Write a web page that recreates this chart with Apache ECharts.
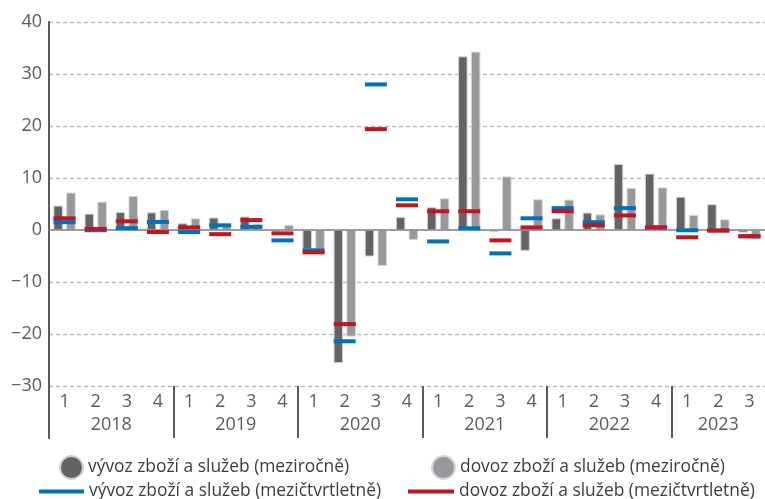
<!DOCTYPE html>
<html>
<head>
<meta charset="utf-8">
<script src="https://cdn.jsdelivr.net/npm/echarts@6/dist/echarts.min.js"></script>
<style>
  html, body { margin: 0; padding: 0; background: #fff; }
  #chart { width: 765px; height: 499px; }
</style>
</head>
<body>
<div id="chart"></div>
<script>
// Quarter labels (per year) and the years they belong to
const quarterLabels = ['1','2','3','4','1','2','3','4','1','2','3','4','1','2','3','4','1','2','3','4','1','2','3'];
const yearLabels = ['2018','2019','2020','2021','2022','2023'];
const quartersPerYear = [4, 4, 4, 4, 4, 3];

// y-axis ticks
const yTicks = [-40, -30, -20, -10, 0, 10, 20, 30, 40];

// Year-on-year growth, %
const exportYoY = [4.7, 3.15, 3.45, 3.4, 1.3, 2.4, 2.6, -0.3, -3.7, -25.6, -5.1, 2.5, 4.4, 33.4, -0.4, -4.0, 2.25, 3.35, 12.7, 10.85, 6.4, 4.95, -0.5];
const importYoY = [7.2, 5.45, 6.55, 3.9, 2.25, 1.1, 1.2, 1.0, -3.7, -20.5, -6.9, -1.9, 6.1, 34.3, 10.3, 5.9, 5.85, 3.0, 8.1, 8.2, 2.9, 2.05, -1.8];

// Quarter-on-quarter growth, %
const exportQoQ = [1.5, -0.05, 0.35, 1.55, -0.4, 0.9, 0.6, -2.0, -3.9, -21.4, 28.0, 5.9, -2.2, 0.33, -4.5, 2.25, 4.2, 1.5, 4.2, 0.5, -0.05, -0.1, -1.2];
const importQoQ = [2.25, 0.2, 1.67, -0.4, 0.5, -0.8, 1.9, -0.65, -4.3, -18.1, 19.4, 4.75, 3.6, 3.6, -2.0, 0.5, 3.6, 0.9, 2.8, 0.5, -1.4, -0.1, -1.2];

const seriesNames = [
  'vývoz zboží a služeb (meziročně)',
  'dovoz zboží a služeb (meziročně)',
  'vývoz zboží a služeb (mezičtvrtletně)',
  'dovoz zboží a služeb (mezičtvrtletně)'
];

// Year boundaries and year-label centres on a 0..N quarter scale
const yearStarts = [];
const yearCenters = [];
let acc = 0;
quartersPerYear.forEach(n => { yearStarts.push(acc); yearCenters.push(acc + n / 2); acc += n; });
const totalQuarters = acc;

const FONT = "'Open Sans', 'Noto Sans', sans-serif";
const AXIS_GRAY = '#5b5b5b';
const GRID_GRAY = '#bcbcbc';
const DARK = '#636366';
const LIGHT = '#97989b';
const BLUE = '#0071bb';
const RED = '#c0161e';

// Split line colours per tick: hide the bottom (-40) and the zero line (drawn by the axis)
const splitColors = yTicks.map(v => (v === yTicks[0] || v === 0) ? 'rgba(0,0,0,0)' : GRID_GRAY);

const chart = echarts.init(document.getElementById('chart'), null, { renderer: 'canvas' });

const legendText = { fontFamily: FONT, fontSize: 17.4, color: '#3d3d3d' };

chart.setOption({
  animation: false,
  backgroundColor: '#ffffff',
  grid: { left: 49, top: 22, width: 719, height: 416 },
  legend: [
    { data: [seriesNames[0]], left: 59, top: 455, padding: 0, icon: 'circle', itemWidth: 23, itemHeight: 23, textStyle: legendText, selectedMode: false },
    { data: [seriesNames[1]], left: 431, top: 455, padding: 0, icon: 'circle', itemWidth: 23, itemHeight: 23, textStyle: legendText, selectedMode: false },
    { data: [seriesNames[2]], left: 39, top: 483, padding: 0, icon: 'rect', itemWidth: 45, itemHeight: 4, textStyle: legendText, selectedMode: false },
    { data: [seriesNames[3]], left: 408, top: 483, padding: 0, icon: 'rect', itemWidth: 46, itemHeight: 4, textStyle: legendText, selectedMode: false }
  ],
  xAxis: [
    {
      // zero line
      type: 'category', data: quarterLabels, position: 'bottom', z: 3,
      axisLine: { show: true, onZero: true, lineStyle: { color: '#7f7f7f', width: 1.6 } },
      axisTick: { show: false }, axisLabel: { show: false }, splitLine: { show: false }
    },
    {
      // quarter numbers
      type: 'category', data: quarterLabels, position: 'bottom',
      axisLine: { show: false, onZero: false }, axisTick: { show: false },
      axisLabel: { show: true, inside: true, interval: 0, margin: 27, fontFamily: FONT, fontSize: 18, color: AXIS_GRAY },
      splitLine: { show: false }
    },
    {
      // years and year separators
      type: 'value', min: 0, max: totalQuarters, position: 'bottom',
      axisLine: { show: false, onZero: false },
      axisTick: { show: true, inside: true, length: 52, customValues: yearStarts.slice(1), lineStyle: { color: AXIS_GRAY, width: 2 } },
      axisLabel: {
        show: true, inside: true, margin: 4, customValues: yearCenters,
        fontFamily: FONT, fontSize: 18, color: AXIS_GRAY,
        formatter: v => { const i = yearCenters.indexOf(v); return i >= 0 ? yearLabels[i] : ''; }
      },
      splitLine: { show: false }
    }
  ],
  yAxis: {
    type: 'value', min: yTicks[0], max: yTicks[yTicks.length - 1], interval: 10,
    axisLine: { show: true, lineStyle: { color: AXIS_GRAY, width: 2 } },
    axisTick: { show: false },
    axisLabel: {
      margin: 7, fontFamily: FONT, fontSize: 18, color: AXIS_GRAY,
      formatter: v => v === yTicks[0] ? '' : (v < 0 ? '\u2212' + Math.abs(v) : String(v))
    },
    splitLine: { show: true, lineStyle: { color: splitColors, type: [4, 3], width: 1.3 } }
  },
  series: [
    {
      name: seriesNames[0], type: 'bar', xAxisIndex: 0, data: exportYoY,
      barWidth: 9.5, barGap: '35%',
      itemStyle: { color: DARK, borderColor: '#d2d2d2', borderWidth: 1 }
    },
    {
      name: seriesNames[1], type: 'bar', xAxisIndex: 0, data: importYoY,
      barWidth: 9.5, barGap: '35%',
      itemStyle: { color: LIGHT, borderColor: '#d6d6d6', borderWidth: 1 }
    },
    {
      name: seriesNames[2], type: 'scatter', xAxisIndex: 0, data: exportQoQ, z: 5,
      symbol: 'rect', symbolSize: [22, 4], itemStyle: { color: BLUE, opacity: 1 }
    },
    {
      name: seriesNames[3], type: 'scatter', xAxisIndex: 0, data: importQoQ, z: 6,
      symbol: 'rect', symbolSize: [22, 4], itemStyle: { color: RED, opacity: 1 }
    }
  ]
});
</script>
</body>
</html>
